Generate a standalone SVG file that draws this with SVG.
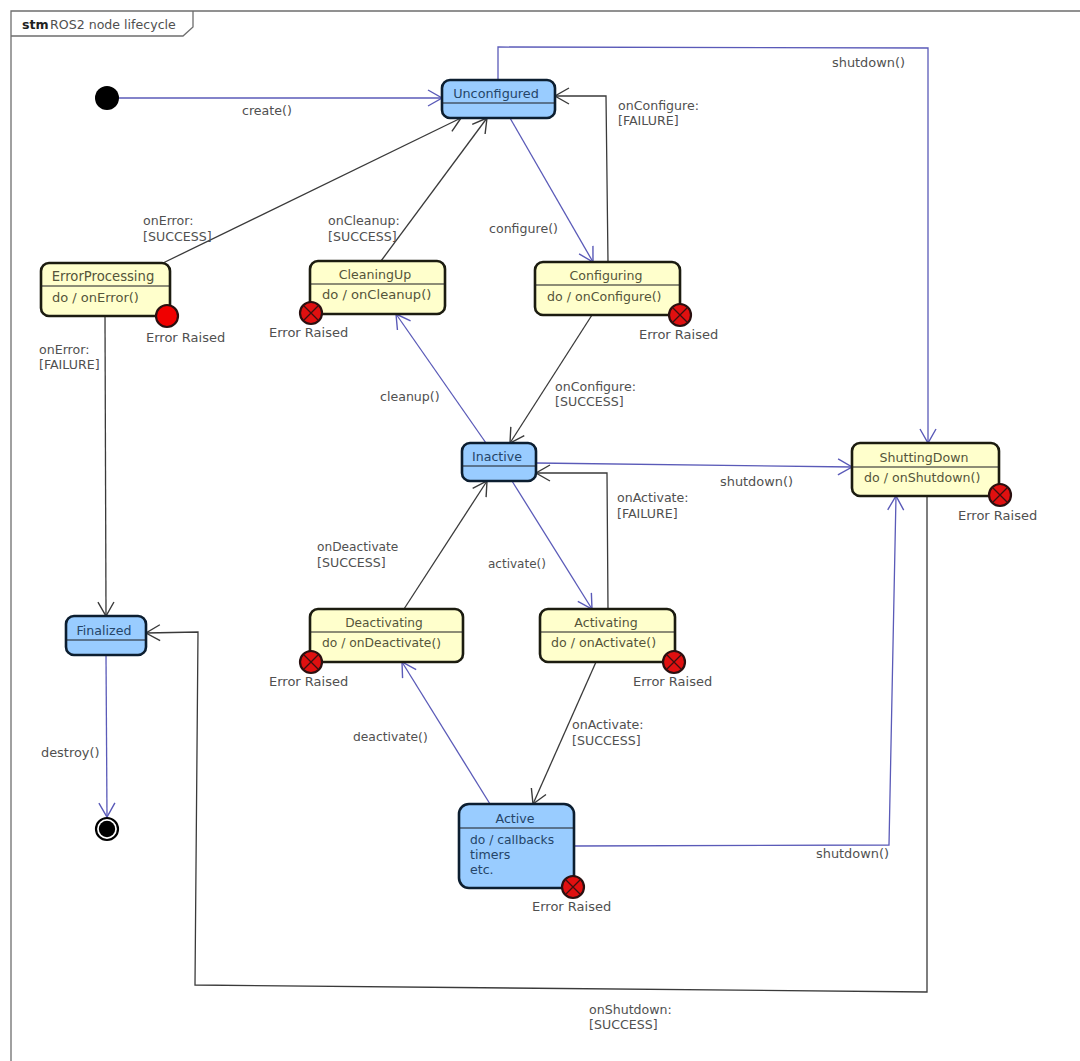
<svg xmlns="http://www.w3.org/2000/svg" width="1080" height="1061" viewBox="0 0 1080 1061">
<style>
text{font-family:"DejaVu Sans",sans-serif;font-size:12.6px;fill:#505050}
.e{font-size:13px}
.s{font-size:12.9px}
.frame{fill:none;stroke:#6e6e6e;stroke-width:1.3}
.b{fill:#99ccff;stroke:#0c1e30;stroke-width:2.6}
.y{fill:#ffffcc;stroke:#1c1c10;stroke-width:2.6}
.d{fill:none;stroke:#1c1c20;stroke-width:1.2}
.tb{fill:#254568;text-anchor:middle}
.ty{fill:#55553a;text-anchor:middle}
.lb{fill:#254568}
.ly{fill:#55553a}
.cb{fill:none;stroke:#5a5ab8;stroke-width:1.3;marker-end:url(#ab)}
.ck{fill:none;stroke:#3a3a3a;stroke-width:1.3;marker-end:url(#ak)}
</style>
<defs>
<marker id="ab" markerUnits="userSpaceOnUse" markerWidth="18" markerHeight="20" refX="15" refY="9" orient="auto"><path d="M1 1L15 9L1 17" fill="none" stroke="#5a5ab8" stroke-width="1.4"/></marker>
<marker id="ak" markerUnits="userSpaceOnUse" markerWidth="18" markerHeight="20" refX="15" refY="9" orient="auto"><path d="M1 1L15 9L1 17" fill="none" stroke="#3a3a3a" stroke-width="1.4"/></marker>
<g id="err"><circle r="11" fill="#e01010" stroke="#2a1010" stroke-width="2.2"/><path d="M-7-7L7 7M-7 7L7-7" stroke="#3a1010" stroke-width="1.3"/></g>
</defs>
<g id="frame">
<path class="frame" d="M1080 11H11V1061"/>
<path class="frame" d="M11 36H183L193 27V11"/>
<text x="22" y="29" style="font-weight:bold;fill:#222">stm</text>
<text x="50" y="29">ROS2 node lifecycle</text>
</g>
<g id="connectors">
<path class="cb" d="M118 98H442"/>
<path class="cb" d="M498 80V47L928 48V443"/>
<path class="ck" d="M608 262L606 96H555"/>
<path class="cb" d="M510 118L593 262"/>
<path class="ck" d="M163 263L461 118"/>
<path class="ck" d="M381 261L487 118"/>
<path class="cb" d="M486 443L396 314"/>
<path class="ck" d="M592 315L510 443"/>
<path class="cb" d="M536 463L852 467"/>
<path class="cb" d="M512 481L592 609"/>
<path class="ck" d="M608 609L607 473H536"/>
<path class="ck" d="M404 609L487 481"/>
<path class="cb" d="M490 804L402 662"/>
<path class="ck" d="M596 662L533 804"/>
<path class="cb" d="M574 846L889 845L896 496"/>
<path class="ck" d="M927 496V992L195 985L198 632L146 633"/>
<path class="ck" d="M105 316L106 616"/>
<path class="cb" d="M106 655L107 817"/>
<text x="242" y="115">create()</text>
<text class="s" x="832" y="67">shutdown()</text>
<text x="618" y="110">onConfigure:</text>
<text x="618" y="125">[FAILURE]</text>
<text x="489" y="233">configure()</text>
<text x="143" y="225">onError:</text>
<text x="143" y="241">[SUCCESS]</text>
<text x="328" y="225">onCleanup:</text>
<text x="328" y="241">[SUCCESS]</text>
<text x="39" y="354">onError:</text>
<text x="39" y="369">[FAILURE]</text>
<text x="380" y="401">cleanup()</text>
<text x="555" y="391">onConfigure:</text>
<text x="555" y="406">[SUCCESS]</text>
<text class="s" x="720" y="486">shutdown()</text>
<text x="617" y="502">onActivate:</text>
<text x="617" y="518">[FAILURE]</text>
<text x="488" y="568" style="font-size:12px">activate()</text>
<text x="317" y="551" style="font-size:12.2px">onDeactivate</text>
<text x="317" y="567">[SUCCESS]</text>
<text x="353" y="741" style="font-size:12.3px">deactivate()</text>
<text x="572" y="729">onActivate:</text>
<text x="572" y="745">[SUCCESS]</text>
<text class="s" x="41" y="757">destroy()</text>
<text class="s" x="816" y="858">shutdown()</text>
<text x="589" y="1014">onShutdown:</text>
<text x="589" y="1029">[SUCCESS]</text>
</g>
<g id="initial"><circle cx="107" cy="98" r="12" fill="#000"/></g>
<g id="final"><circle cx="107" cy="829" r="11" fill="#fff" stroke="#000" stroke-width="2.2"/><circle cx="107" cy="829" r="8.2" fill="#000"/></g>
<g id="Unconfigured"><rect class="b" x="442" y="80" width="113" height="38" rx="8"/><path class="d" d="M442 103H555"/><text class="tb" x="496" y="98" style="font-size:12.8px">Unconfigured</text></g>
<g id="ErrorProcessing"><rect class="y" x="41" y="263" width="129" height="53" rx="8"/><path class="d" d="M41 286H170"/><text class="ty" x="103" y="281" style="font-size:13.2px">ErrorProcessing</text><text class="ly" x="52" y="302" style="font-size:13px">do / onError()</text><circle cx="167" cy="316" r="11" fill="#f00000" stroke="#2a1010" stroke-width="2.2"/><text class="e" x="146" y="342">Error Raised</text></g>
<g id="CleaningUp"><rect class="y" x="310" y="261" width="135" height="53" rx="8"/><path class="d" d="M310 284H445"/><text class="ty" x="375" y="279">CleaningUp</text><text class="ly" x="322" y="299" style="font-size:13.1px">do / onCleanup()</text><use href="#err" x="311" y="313"/><text class="e" x="269" y="337">Error Raised</text></g>
<g id="Configuring"><rect class="y" x="535" y="262" width="145" height="53" rx="8"/><path class="d" d="M535 285H680"/><text class="ty" x="606" y="280">Configuring</text><text class="ly" x="547" y="301">do / onConfigure()</text><use href="#err" x="680" y="315"/><text class="e" x="639" y="339">Error Raised</text></g>
<g id="Inactive"><rect class="b" x="462" y="443" width="74" height="38" rx="8"/><path class="d" d="M462 466H536"/><text class="tb" x="497" y="461">Inactive</text></g>
<g id="ShuttingDown"><rect class="y" x="852" y="443" width="147" height="53" rx="8"/><path class="d" d="M852 467H999"/><text class="ty" x="924" y="462">ShuttingDown</text><text class="ly" x="864" y="482">do / onShutdown()</text><use href="#err" x="1000" y="495"/><text class="e" x="958" y="520">Error Raised</text></g>
<g id="Finalized"><rect class="b" x="66" y="616" width="80" height="39" rx="8"/><path class="d" d="M66 640H146"/><text class="tb" x="104" y="635">Finalized</text></g>
<g id="Deactivating"><rect class="y" x="310" y="609" width="153" height="53" rx="8"/><path class="d" d="M310 632H463"/><text class="ty" x="384" y="627" style="font-size:12.2px">Deactivating</text><text class="ly" x="322" y="647" style="font-size:12.3px">do / onDeactivate()</text><use href="#err" x="311" y="662"/><text class="e" x="269" y="686">Error Raised</text></g>
<g id="Activating"><rect class="y" x="540" y="609" width="135" height="53" rx="8"/><path class="d" d="M540 632H675"/><text class="ty" x="606" y="627">Activating</text><text class="ly" x="551" y="647">do / onActivate()</text><use href="#err" x="674" y="662"/><text class="e" x="633" y="686">Error Raised</text></g>
<g id="Active"><rect class="b" x="459" y="804" width="115" height="84" rx="10"/><path class="d" d="M459 828H574"/><text class="tb" x="515" y="823">Active</text><text class="lb" x="470" y="844" style="font-size:12.3px">do / callbacks</text><text class="lb" x="470" y="859">timers</text><text class="lb" x="470" y="874">etc.</text><use href="#err" x="573" y="887"/><text class="e" x="532" y="911">Error Raised</text></g>
</svg>
